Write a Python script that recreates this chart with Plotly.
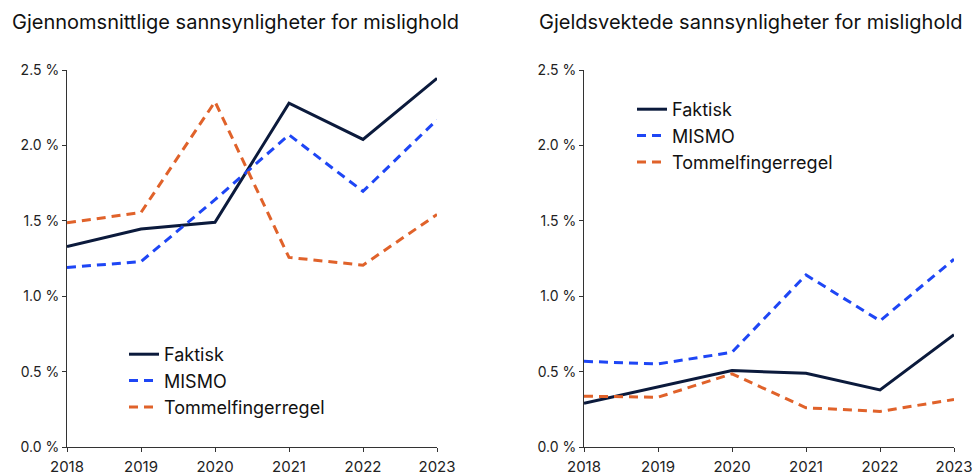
import plotly.graph_objects as go

years = [2018, 2019, 2020, 2021, 2022, 2023]

# Left: Gjennomsnittlige sannsynligheter for mislighold (percent)
avg_faktisk = [1.33, 1.445, 1.49, 2.28, 2.04, 2.445]
avg_mismo = [1.19, 1.23, 1.64, 2.07, 1.695, 2.17]
avg_tommel = [1.487, 1.555, 2.29, 1.257, 1.206, 1.542]

# Right: Gjeldsvektede sannsynligheter for mislighold (percent)
w_faktisk = [0.29, 0.396, 0.507, 0.489, 0.379, 0.745]
w_mismo = [0.568, 0.551, 0.628, 1.141, 0.837, 1.245]
w_tommel = [0.337, 0.33, 0.485, 0.26, 0.236, 0.315]

titles = ["Gjennomsnittlige sannsynligheter for mislighold",
          "Gjeldsvektede sannsynligheter for mislighold"]
series_names = ["Faktisk", "MISMO", "Tommelfingerregel"]
y_ticks = [0, 0.5, 1.0, 1.5, 2.0, 2.5]
y_ticktext = ["0.0 %", "0.5 %", "1.0 %", "1.5 %", "2.0 %", "2.5 %"]

colors = ["#0b1a3c", "#1e46f5", "#e0622a"]
dashes = ["solid", "9px,6px", "9px,6px"]

FONT = "Inter"
W, H = 974, 475


def px(x):
    return x / W


def py(y):
    return 1 - y / H


fig = go.Figure()

panels = [
    ([avg_faktisk, avg_mismo, avg_tommel], "x", "y", "legend"),
    ([w_faktisk, w_mismo, w_tommel], "x2", "y2", "legend2"),
]
for vals, xa, ya, lg in panels:
    for name, v, c, d in zip(series_names, vals, colors, dashes):
        fig.add_trace(go.Scatter(
            x=years, y=v, name=name, mode="lines",
            line=dict(color=c, width=3, dash=d),
            xaxis=xa, yaxis=ya, legend=lg, hoverinfo="skip"))

ydom = [py(447), py(70)]
axis_common = dict(showgrid=False, zeroline=False, showline=True,
                   linecolor="#333333", linewidth=1, ticks="outside",
                   ticklen=4, tickcolor="#333333", automargin=False)
xfont = dict(family=FONT, size=15, color="#222222")
yfont = dict(family=FONT, size=14, color="#222222")

fig.update_layout(
    width=W, height=H,
    margin=dict(l=0, r=0, t=0, b=0, autoexpand=False),
    paper_bgcolor="white", plot_bgcolor="white",
    font=dict(family=FONT, color="#222222"),
    xaxis=dict(domain=[px(67), px(437)], range=[2018, 2023],
               tickvals=years, tickfont=xfont, ticklabelstandoff=2, **axis_common),
    yaxis=dict(domain=ydom, range=[0, 2.5], tickvals=y_ticks,
               ticktext=y_ticktext, tickfont=yfont, **axis_common),
    xaxis2=dict(domain=[px(584), px(954)], range=[2018, 2023],
                tickvals=years, anchor="y2", tickfont=xfont, ticklabelstandoff=2,
                **axis_common),
    yaxis2=dict(domain=ydom, range=[0, 2.5], tickvals=y_ticks,
                ticktext=y_ticktext, anchor="x2", tickfont=yfont, **axis_common),
    legend=dict(x=px(124), y=py(336), xanchor="left", yanchor="top",
                bgcolor="rgba(0,0,0,0)", font=dict(family=FONT, size=18, color="#111111"),
                tracegroupgap=0, itemwidth=30),
    legend2=dict(x=px(632), y=py(91), xanchor="left", yanchor="top",
                 bgcolor="rgba(0,0,0,0)", font=dict(family=FONT, size=18, color="#111111"),
                 tracegroupgap=0, itemwidth=30),
    showlegend=True,
)

fig.add_annotation(text=titles[0], x=px(10), y=py(22), xref="paper", yref="paper",
                   xanchor="left", yanchor="middle", showarrow=False,
                   font=dict(family=FONT, size=20, color="#111111"))
fig.add_annotation(text=titles[1], x=px(537), y=py(22), xref="paper", yref="paper",
                   xanchor="left", yanchor="middle", showarrow=False,
                   font=dict(family=FONT, size=20, color="#111111"))

fig.write_html(
    "out.html",
    config={"displayModeBar": False},
    post_script="document.body.style.margin='0';document.body.style.overflow='hidden';",
)
